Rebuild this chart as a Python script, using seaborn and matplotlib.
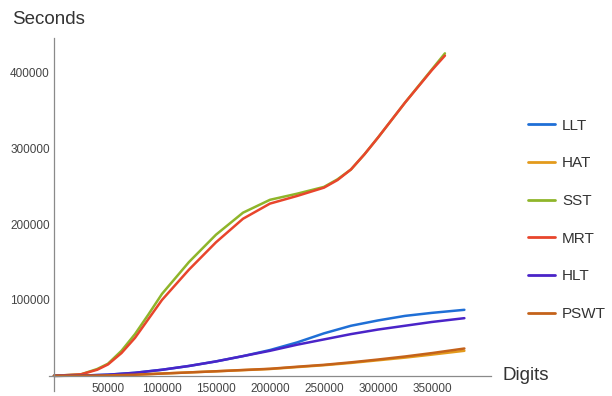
import matplotlib
matplotlib.use("Agg")
import matplotlib.pyplot as plt
import matplotlib.ticker as mticker
import pandas as pd
import seaborn as sns

# Running time (seconds) versus number of digits for each test
digits = [0, 25000, 50000, 75000, 100000, 125000, 150000, 175000, 200000,
          225000, 250000, 275000, 300000, 325000, 350000, 380000]
llt = [0, 300, 1500, 4000, 8000, 13000, 19000, 26000, 34000,
       44000, 56000, 66000, 73000, 79000, 83000, 87000]
hat = [0, 200, 600, 1500, 3000, 4500, 6000, 7500, 9000,
       11500, 14000, 17000, 20500, 24000, 28000, 33000]
hlt = [0, 300, 1500, 4000, 8000, 13000, 19000, 26000, 33000,
       41000, 48000, 55000, 61000, 66000, 71000, 76000]
pswt = [0, 200, 600, 1500, 3000, 4500, 6000, 7700, 9300,
        12000, 14500, 17800, 21500, 25500, 30000, 36000]

digits_short = [0, 25000, 40000, 50000, 62500, 75000, 87500, 100000,
                125000, 150000, 175000, 200000, 225000, 250000, 262500,
                275000, 287500, 300000, 325000, 350000, 362000]
sst = [0, 2000, 9000, 16000, 33000, 55000, 81000, 108000,
       150000, 186000, 215000, 232000, 240000, 249000, 259000,
       272000, 292000, 314000, 360000, 404000, 425000]
mrt = [0, 2000, 8000, 15000, 30000, 50000, 75000, 100000,
       140000, 176000, 207000, 227000, 237000, 248000, 258000,
       272000, 292000, 314000, 360000, 403000, 422000]

names = ["LLT", "HAT", "SST", "MRT", "HLT", "PSWT"]
colors = ["#1f6fd6", "#e39a1c", "#8fb52a", "#e8452c", "#4a24c8", "#c4621a"]

frames = []
for name, xs, ys in [("LLT", digits, llt), ("HAT", digits, hat),
                     ("SST", digits_short, sst), ("MRT", digits_short, mrt),
                     ("HLT", digits, hlt), ("PSWT", digits, pswt)]:
    frames.append(pd.DataFrame({"Digits": xs, "Seconds": ys, "Test": name}))
df = pd.concat(frames, ignore_index=True)

sns.set_style("white")
plt.rcParams["font.family"] = ["Liberation Sans", "DejaVu Sans"]

fig = plt.figure(figsize=(6.12, 3.96), dpi=100)
ax = fig.add_axes([0.0794, 0.0126, 0.7235, 0.891])

sns.lineplot(data=df, x="Digits", y="Seconds", hue="Test", hue_order=names,
             palette=colors, linewidth=1.8, ax=ax, legend=False, sort=False,
             estimator=None)

ax.set_xlim(-5000, 405000)
ax.set_ylim(-20000, 445000)

gray = "#8a8a8a"
for side in ("top", "right"):
    ax.spines[side].set_visible(False)
ax.spines["left"].set_position(("data", 0))
ax.spines["bottom"].set_position(("data", 0))
for side in ("left", "bottom"):
    ax.spines[side].set_color(gray)
    ax.spines[side].set_linewidth(0.9)

ax.xaxis.set_major_locator(mticker.FixedLocator([50000, 100000, 150000, 200000,
                                                 250000, 300000, 350000]))
ax.xaxis.set_minor_locator(mticker.MultipleLocator(10000))
ax.yaxis.set_major_locator(mticker.FixedLocator([100000, 200000, 300000, 400000]))
ax.yaxis.set_minor_locator(mticker.MultipleLocator(20000))
ax.tick_params(axis="both", which="major", direction="in", length=4,
               width=0.8, color=gray, labelsize=8.5, labelcolor="#444444")
ax.tick_params(axis="both", which="minor", direction="in", length=2.3,
               width=0.6, color=gray)
ax.tick_params(axis="x", pad=5)
ax.tick_params(axis="y", pad=3)
ax.yaxis.set_major_formatter(mticker.FuncFormatter(lambda v, p: f"{int(v)}"))
ax.xaxis.set_major_formatter(mticker.FuncFormatter(lambda v, p: f"{int(v)}"))
ax.set_xlabel("")
ax.set_ylabel("")
ax.grid(False)

fig.text(12 / 612, 1 - 19 / 396, "Seconds", fontsize=13.5, color="#333333",
         va="center", ha="left")
fig.text(502 / 612, 1 - 375 / 396, "Digits", fontsize=13.5, color="#333333",
         va="center", ha="left")

handles = [plt.Line2D([], [], color=c, linewidth=2) for c in colors]
fig.legend(handles, names, loc="upper left",
           bbox_to_anchor=(514 / 612, 1 - 105 / 396), frameon=False,
           fontsize=11, handlelength=1.8, handletextpad=0.45,
           labelspacing=1.55, labelcolor="#333333")

fig.savefig("out.png", dpi=100)
